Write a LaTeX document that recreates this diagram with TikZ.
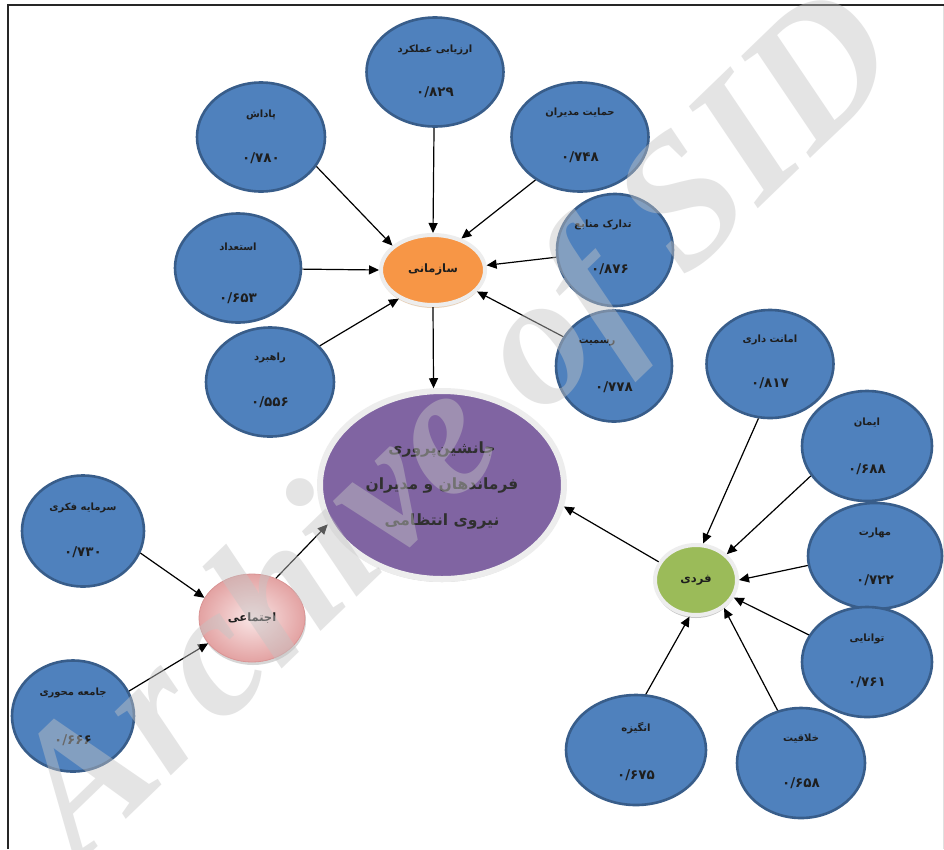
\documentclass[tikz,border=0pt]{standalone}
\usepackage{fontspec}
\setmainfont{Liberation Serif}
\newfontfamily\fa[Script=Arabic]{DejaVu Sans}
\TeXXeTstate=1
\usetikzlibrary{shapes.geometric,arrows.meta,shadows}
\definecolor{leafblue}{HTML}{4F81BD}
\definecolor{leafedge}{HTML}{385D8A}
\definecolor{orgfill}{HTML}{F79646}
\definecolor{grnfill}{HTML}{9BBB59}
\definecolor{purfill}{HTML}{8064A2}
\definecolor{rimcol}{HTML}{EDEDED}
\definecolor{rimline}{HTML}{CFCFCF}
\definecolor{pinkin}{HTML}{F9E6E6}
\definecolor{pinkout}{HTML}{E3A2A2}
\definecolor{pinkedge}{HTML}{D99494}
\definecolor{txtdark}{HTML}{1E1E1E}
\definecolor{maintxt}{HTML}{303030}
\definecolor{wmgray}{HTML}{C4C4C4}
\tikzset{
  leaf/.style={ellipse, draw=leafedge, line width=2.6pt, fill=leafblue, inner sep=0pt},
  ttl/.style={inner sep=0pt, text=txtdark, font=\fa\bfseries\fontsize{10}{11}\selectfont},
  num/.style={inner sep=0pt, text=txtdark, font=\fa\bfseries\fontsize{13.5}{14}\selectfont},
  hub/.style={ellipse, inner sep=0pt, text=txtdark, font=\fa\bfseries\fontsize{11.5}{14}\selectfont},
  conn/.style={line width=1.2pt, -{Triangle[length=10pt,width=9pt]}},
}
\newcommand\leafnode[9]{%
  \node[leaf, minimum width=#4, minimum height=#5] (#1) at (#2,#3) {};
  \node[ttl, shift={(#8)}] (#1t) at (#2,#3) {#6};
  \node[num, shift={(#9)}] (#1n) at (#2,#3) {#7};
}
\begin{document}
\begin{tikzpicture}[x=1pt,y=-1pt]
\useasboundingbox (0,0) rectangle (944,849);
\fill[white] (0,0) rectangle (944,849);
% frame
\draw[line width=2.6pt, color=black!85] (8,849) -- (8,5) -- (944,5);
\draw[line width=0.8pt, color=black!12] (943,6) -- (943,849);

% leaves
\leafnode{arz}{435}{72}{137}{109}{\beginR ارزیابی عملکرد\endR}{۰/۸۲۹}{0,-22}{0,20}
\leafnode{hem}{580}{137}{137}{109}{\beginR حمایت مدیران\endR}{۰/۷۴۸}{0,-24}{0,20}
\leafnode{pad}{261}{137}{128}{109}{\beginR پاداش\endR}{۰/۷۸۰}{0,-22}{0,21}
\leafnode{est}{238}{268}{126}{109}{\beginR استعداد\endR}{۰/۶۵۳}{0,-21}{0,30}
\leafnode{rah}{270}{382}{128}{109}{\beginR راهبرد\endR}{۰/۵۵۶}{0,-24}{0,20}
\leafnode{tad}{615}{250}{116}{112}{\beginR تدارک منابع\endR}{۰/۸۷۶}{-12,-25}{-5,19}
\leafnode{ras}{614}{366}{116}{111}{\beginR رسمیت\endR}{۰/۷۷۸}{-17,-23}{0,21}
\leafnode{sar}{83}{531}{122}{111}{\beginR سرمایه فکری\endR}{۰/۷۳۰}{0,-23}{0,21}
\leafnode{jam}{73}{716}{122}{111}{\beginR جامعه محوری\endR}{۰/۶۶۶}{0,-23}{0,24}
\leafnode{ama}{770}{364}{127}{108}{\beginR امانت داری\endR}{۰/۸۱۷}{0,-24}{0,19}
\leafnode{ima}{867}{446}{130}{110}{\beginR ایمان\endR}{۰/۶۸۸}{0,-23}{0,23}
\leafnode{mah}{875}{556}{134}{106}{\beginR مهارت\endR}{۰/۷۲۲}{0,-23}{0,24}
\leafnode{tav}{867}{662}{130}{110}{\beginR توانایی\endR}{۰/۷۶۱}{0,-23}{0,20}
\leafnode{ang}{636}{750}{140}{110}{\beginR انگیزه\endR}{۰/۶۷۵}{0,-22}{0,25}
\leafnode{kha}{801}{763}{128}{110}{\beginR خلاقیت\endR}{۰/۶۵۸}{0,-24}{0,20}

% hubs
\node[hub, minimum width=104, minimum height=70, fill=orgfill, draw=rimcol, line width=4pt,
  drop shadow={shadow xshift=0pt, shadow yshift=-3pt, fill=brown!45, opacity=0.8}] (org) at (433,270) {\beginR سازمانی\endR};
\node[hub, minimum width=106, minimum height=88, shade, inner color=pinkin, outer color=pinkout,
  draw=pinkedge, line width=0.8pt,
  drop shadow={shadow xshift=1pt, shadow yshift=-3pt, fill=gray!45, opacity=0.7}] (soc) at (252,618) {\beginR اجتماعی\endR};
\node[hub, minimum width=82, minimum height=70, fill=grnfill, draw=rimcol, line width=4pt,
  drop shadow={shadow xshift=0pt, shadow yshift=-3pt, fill=gray!55, opacity=0.8}] (ind) at (696,580) {\beginR فردی\endR};
\node[ellipse, inner sep=0pt, minimum width=244, minimum height=188, fill=purfill,
  draw=rimcol, line width=6pt, align=center, text=maintxt,
  font=\fa\bfseries\fontsize{15.5}{36}\selectfont,
  drop shadow={shadow xshift=0pt, shadow yshift=-3pt, fill=gray!50, opacity=0.7}] (main) at (442,485)
  {\beginR جانشین‌پروری\endR\\ \beginR فرماندهان و مدیران\endR\\ \beginR نیروی انتظامی\endR};

% connectors
\draw[conn] (arz.-91) -- (org.90);
\draw[conn] (pad.-28) -- (org.149);
\draw[conn] (hem.224) -- (org.48);
\draw[conn] (est.-1) -- (org.180);
\draw[conn] (tad.187) -- (org.5);
\draw[conn] (rah.36) -- (org.220);
\draw[conn] (ras.150) -- (org.-26);
\draw[conn] (org.-90) -- (main.95);
\draw[conn] (sar.-21) -- (soc.157);
\draw[conn] (jam.24) -- (soc.210);
\draw[conn] (soc.59) -- (main.199);
\draw[conn] (ind.154) -- (main.-10);
\draw[conn] (ama.-102) -- (ind.79);
\draw[conn] (ima.208) -- (ind.40);
\draw[conn] (mah.188) -- (ind.0);
\draw[conn] (tav.155) -- (ind.-25);
\draw[conn] (ang.80) -- (ind.260);
\draw[conn] (kha.114) -- (ind.-45);

% watermark
\node[rotate=44, text=wmgray, text opacity=0.45, inner sep=0pt,
  font=\bfseries\itshape\fontsize{185}{185}\selectfont] (wm) at (462,432) {Archive of SID};
\end{tikzpicture}
\end{document}
